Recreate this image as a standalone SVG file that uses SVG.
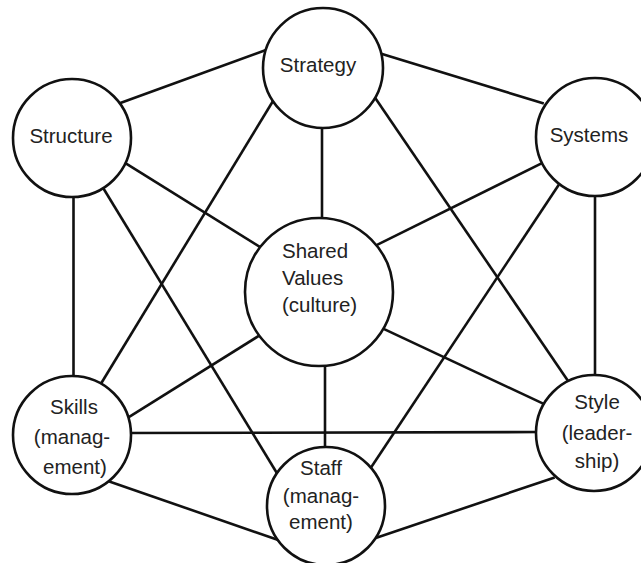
<svg xmlns="http://www.w3.org/2000/svg" width="641" height="563" viewBox="0 0 641 563">
<style>
.c{stroke:#111;stroke-width:2.6;fill:none;stroke-linecap:butt}
.n{fill:#fff;stroke:#111;stroke-width:2.6}
.t{font-family:"Liberation Sans",Arial,sans-serif;font-size:20.5px;fill:#222}
.m{text-anchor:middle}
</style>
<rect width="641" height="563" fill="#fff"/>
<g id="connectors">
<line class="c" x1="118.3" y1="103.7" x2="270.7" y2="48.3"/>
<line class="c" x1="377.2" y1="52.5" x2="543.8" y2="103.5"/>
<line class="c" x1="322" y1="120" x2="322" y2="225"/>
<line class="c" x1="275.6" y1="96.7" x2="99.4" y2="386.3"/>
<line class="c" x1="373.2" y1="94.9" x2="570.8" y2="385.1"/>
<line class="c" x1="125.8" y1="163.4" x2="264.2" y2="249.6"/>
<line class="c" x1="73.5" y1="190" x2="73.5" y2="382"/>
<line class="c" x1="102.4" y1="186.7" x2="277.6" y2="474.3"/>
<line class="c" x1="542.5" y1="162.8" x2="372.5" y2="247.2"/>
<line class="c" x1="558.8" y1="184.8" x2="367.2" y2="473.2"/>
<line class="c" x1="595" y1="190" x2="595" y2="382"/>
<line class="c" x1="261.2" y1="334.4" x2="124.8" y2="419.6"/>
<line class="c" x1="381.5" y1="327.9" x2="548.5" y2="406.1"/>
<line class="c" x1="325" y1="360" x2="325" y2="455"/>
<line class="c" x1="125" y1="433" x2="542" y2="432"/>
<line class="c" x1="109.3" y1="481.4" x2="279.7" y2="540.6"/>
<line class="c" x1="554.7" y1="477.4" x2="368.3" y2="540.6"/>
</g>
<g id="strategy">
<circle class="n" cx="323" cy="68" r="60"/>
<text class="t m" x="318" y="72">Strategy</text>
</g>
<g id="structure">
<circle class="n" cx="72" cy="138" r="59"/>
<text class="t m" x="71" y="143">Structure</text>
</g>
<g id="systems">
<circle class="n" cx="595" cy="137" r="59"/>
<text class="t m" x="589" y="142">Systems</text>
</g>
<g id="shared-values">
<circle class="n" cx="319" cy="292" r="74"/>
<text class="t" x="282" y="258">Shared</text>
<text class="t" x="282" y="285">Values</text>
<text class="t" x="282" y="312">(culture)</text>
</g>
<g id="skills">
<circle class="n" cx="72" cy="435" r="59"/>
<text class="t m" x="74" y="414">Skills</text>
<text class="t m" x="72" y="444">(manag-</text>
<text class="t m" x="75" y="474">ement)</text>
</g>
<g id="style">
<circle class="n" cx="594" cy="433" r="58"/>
<text class="t m" x="597" y="409">Style</text>
<text class="t m" x="597" y="440">(leader-</text>
<text class="t m" x="597" y="468">ship)</text>
</g>
<g id="staff">
<circle class="n" cx="326" cy="506" r="59"/>
<text class="t m" x="321" y="475">Staff</text>
<text class="t m" x="321" y="503">(manag-</text>
<text class="t m" x="321" y="529">ement)</text>
</g>
</svg>
